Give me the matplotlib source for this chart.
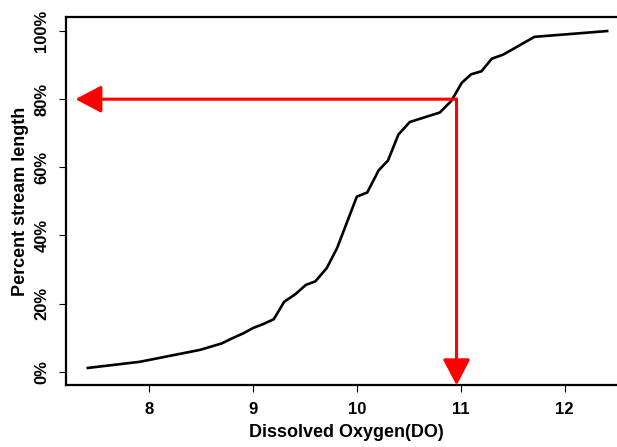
import numpy as np
import matplotlib.pyplot as plt
from matplotlib.ticker import FuncFormatter

plt.rcParams['font.family'] = ['Liberation Sans', 'DejaVu Sans']
plt.rcParams['font.weight'] = 'bold'

# dissolved oxygen vs cumulative percent of stream length
do = [7.41, 7.91, 8.49, 8.70, 8.80, 8.91, 9.00, 9.10, 9.20, 9.30, 9.41, 9.51, 9.60,
      9.71, 9.81, 10.00, 10.10, 10.21, 10.30, 10.40, 10.51, 10.80, 10.91, 11.01,
      11.10, 11.20, 11.30, 11.41, 11.71, 12.41]
pct = [1.1, 2.9, 6.4, 8.3, 9.8, 11.3, 12.8, 14.0, 15.4, 20.5, 22.8, 25.5, 26.5,
       30.4, 36.3, 51.4, 52.6, 59.1, 62.0, 69.6, 73.3, 76.1, 79.5, 84.8,
       87.3, 88.2, 91.9, 93.1, 98.3, 100.0]

x_ticks = [8, 9, 10, 11, 12]
y_ticks = [0, 20, 40, 60, 80, 100]
target_pct = 80
target_do = 10.96

fig = plt.figure(figsize=(6.17, 4.47), dpi=100)
ax = fig.add_axes([0.107, 0.138, 0.909, 0.823])

ax.plot(do, pct, color='black', lw=1.9, solid_joinstyle='round')

# reading arrows
red = '#ff0000'
arrow = dict(arrowstyle='-|>,head_length=0.8,head_width=0.42', color=red, lw=2.2,
             mutation_scale=20, shrinkA=0, shrinkB=0)
ax.annotate('', xy=(7.29, target_pct), xytext=(target_do, target_pct), arrowprops=arrow)
ax.annotate('', xy=(target_do, -4), xytext=(target_do, target_pct), arrowprops=arrow)

ax.set_xlim(7.2, 12.6)
ax.set_ylim(-4, 104)
ax.set_xticks(x_ticks)
ax.set_yticks(y_ticks)
ax.yaxis.set_major_formatter(FuncFormatter(lambda v, p: '%d%%' % v))
ax.tick_params(labelsize=12, width=0.8, length=5, pad=7)
for lab in ax.get_yticklabels():
    lab.set_rotation(90)
    lab.set_va('center')

for side in ['left', 'bottom', 'top']:
    ax.spines[side].set_linewidth(1.6)
ax.spines['right'].set_visible(False)

ax.set_xlabel('Dissolved Oxygen(DO)', fontsize=13, fontweight='bold', labelpad=5)
ax.set_ylabel('Percent stream length', fontsize=13, fontweight='bold', labelpad=4)

fig.savefig('out.png', dpi=100)
